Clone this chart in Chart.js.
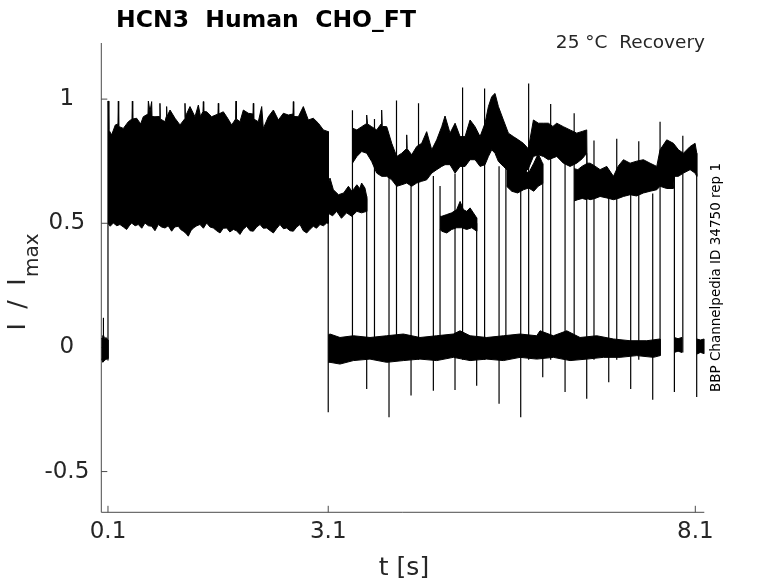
<!DOCTYPE html>
<html><head><meta charset="utf-8">
<script src="https://cdn.jsdelivr.net/npm/chart.js@4"></script>
<style>html,body{margin:0;padding:0;background:#fff;overflow:hidden}canvas{display:block}</style>
</head><body>
<canvas id="c" width="778" height="583" style="width:778px;height:583px"></canvas>
<script>
// ---- tick labels ----
const xTicks = [0.1, 3.1, 8.1];
const yTicks = [-0.5, 0, 0.5, 1];

// ---- pre-pulse baseline (t < 0.1 s) ----
const preTopT = [0.009, 0.025, 0.033, 0.036, 0.040, 0.055, 0.075, 0.100];
const preTopV = [0.035, 0.040, 0.050, 0.119, 0.050, 0.035, 0.040, 0.030];
const preBotT = [0.009, 0.030, 0.060, 0.100];
const preBotV = [-0.045, -0.060, -0.050, -0.045];

// ---- first pulse envelope (0.1 - 3.1 s) ----
const p1TopT = [0.100,0.104,0.112,0.150,0.200,0.236,0.241,0.246,0.309,0.377,0.427,0.432,0.437,0.491,0.545,0.581,0.645,0.650,0.672,0.695,0.700,0.740,0.803,0.808,0.813,0.877,0.894,0.899,0.904,0.945,1.013,1.081,1.144,1.149,1.154,1.217,1.285,1.331,1.360,1.394,1.399,1.404,1.444,1.512,1.598,1.603,1.608,1.671,1.717,1.785,1.839,1.844,1.849,1.898,1.944,2.012,2.075,2.080,2.085,2.148,2.194,2.216,2.284,2.353,2.421,2.489,2.557,2.620,2.625,2.630,2.693,2.761,2.829,2.897,2.966,3.034,3.100];
const p1TopV = [0.992,0.992,0.876,0.856,0.896,0.900,0.992,0.890,0.882,0.909,0.920,0.992,0.920,0.923,0.900,0.929,0.940,0.992,0.950,0.990,0.930,0.929,0.930,0.983,0.920,0.909,0.930,0.970,0.930,0.956,0.923,0.896,0.920,0.983,0.930,0.970,0.929,0.976,0.930,0.950,0.990,0.950,0.949,0.929,0.940,0.983,0.940,0.949,0.929,0.896,0.920,0.992,0.920,0.909,0.956,0.943,0.940,0.983,0.920,0.909,0.970,0.882,0.929,0.956,0.916,0.943,0.936,0.940,0.990,0.930,0.929,0.970,0.916,0.923,0.903,0.876,0.869];
const p1BotT = [0.100,0.130,0.173,0.220,0.263,0.310,0.354,0.390,0.422,0.470,0.513,0.560,0.604,0.650,0.695,0.740,0.786,0.830,0.877,0.920,0.967,1.010,1.058,1.090,1.126,1.160,1.194,1.230,1.263,1.310,1.353,1.400,1.444,1.490,1.535,1.580,1.626,1.670,1.717,1.760,1.808,1.850,1.898,1.940,1.989,2.035,2.080,2.125,2.171,2.215,2.262,2.310,2.353,2.400,2.443,2.490,2.534,2.580,2.625,2.670,2.716,2.760,2.807,2.850,2.897,2.940,2.988,3.035,3.079,3.100];
const p1BotV = [0.500,0.488,0.501,0.490,0.495,0.485,0.475,0.490,0.501,0.490,0.495,0.480,0.501,0.490,0.488,0.470,0.495,0.485,0.481,0.490,0.468,0.485,0.488,0.475,0.468,0.460,0.448,0.470,0.481,0.490,0.495,0.480,0.501,0.485,0.481,0.470,0.461,0.480,0.481,0.465,0.475,0.470,0.455,0.475,0.488,0.470,0.468,0.485,0.495,0.480,0.481,0.470,0.461,0.480,0.495,0.478,0.481,0.470,0.468,0.485,0.495,0.470,0.461,0.475,0.488,0.480,0.495,0.490,0.501,0.500];

// ---- zero-current band after the first pulse ----
const zTopT = [3.100,3.124,3.260,3.442,3.669,3.896,4.123,4.350,4.577,4.804,4.895,5.032,5.259,5.486,5.713,5.940,5.985,6.167,6.349,6.530,6.757,6.984,7.211,7.439,7.620];
const zTopV = [0.050,0.054,0.040,0.047,0.040,0.047,0.054,0.040,0.047,0.054,0.067,0.047,0.040,0.047,0.054,0.047,0.067,0.047,0.067,0.040,0.047,0.034,0.027,0.027,0.034];
const zBotT = [3.100,3.124,3.260,3.442,3.669,3.896,4.123,4.350,4.577,4.804,5.032,5.259,5.486,5.713,5.940,6.167,6.394,6.621,6.848,7.075,7.302,7.530,7.620];
const zBotV = [-0.060,-0.060,-0.067,-0.053,-0.047,-0.060,-0.053,-0.047,-0.053,-0.040,-0.053,-0.047,-0.053,-0.040,-0.047,-0.040,-0.053,-0.047,-0.040,-0.040,-0.033,-0.040,-0.033];
const zaT = [7.815, 7.865, 7.915];
const zaTopV = [0.040, 0.035, 0.040];
const zaBotV = [-0.020, -0.015, -0.020];
const zbT = [8.119, 8.170, 8.222];
const zbTopV = [0.034, 0.030, 0.034];
const zbBotV = [-0.027, -0.020, -0.025];

// ---- second-pulse segments ----
const s1TopT = [3.100,3.124,3.170,3.240,3.310,3.375,3.420,3.440,3.490,3.530,3.555,3.600,3.624];
const s1TopV = [0.657,0.682,0.635,0.615,0.622,0.649,0.630,0.635,0.655,0.640,0.662,0.642,0.608];
const s1BotT = [3.100,3.160,3.215,3.280,3.350,3.420,3.490,3.555,3.624];
const s1BotV = [0.540,0.530,0.548,0.520,0.542,0.528,0.548,0.542,0.548];

const s3TopT = [4.623,4.646,4.714,4.782,4.850,4.896,4.941,4.986,5.032,5.077,5.122];
const s3TopV = [0.528,0.528,0.535,0.542,0.555,0.588,0.555,0.548,0.562,0.542,0.522];
const s3BotT = [4.623,4.646,4.714,4.782,4.850,4.920,4.986,5.055,5.122];
const s3BotV = [0.475,0.468,0.461,0.475,0.482,0.482,0.475,0.482,0.468];

const mTopT = [3.430,3.490,3.556,3.615,3.624,3.635,3.692,3.760,3.820,3.828,3.836,3.897,3.965,4.033,4.101,4.165,4.169,4.175,4.237,4.305,4.373,4.441,4.510,4.578,4.646,4.691,4.759,4.828,4.896,4.964,5.032,5.100,5.168,5.236,5.282,5.327,5.372,5.418,5.486,5.554,5.622,5.690,5.758,5.826,5.895,5.963,6.031,6.099,6.160,6.213,6.303,6.394,6.485,6.560,6.621,6.625,6.667,6.735,6.803,6.894,6.985,7.050,7.121,7.212,7.300,7.393,7.484,7.575,7.620,7.711,7.802,7.870,7.938,8.029,8.097,8.120];
const mTopV = [0.883,0.876,0.889,0.900,0.936,0.900,0.889,0.876,0.900,0.956,0.890,0.889,0.822,0.769,0.782,0.800,0.856,0.800,0.776,0.809,0.822,0.869,0.796,0.836,0.889,0.932,0.863,0.903,0.849,0.849,0.916,0.889,0.849,0.903,0.970,1.010,1.023,0.970,0.916,0.863,0.849,0.836,0.822,0.800,0.916,0.903,0.903,0.903,0.890,0.903,0.889,0.876,0.863,0.870,0.876,0.742,0.742,0.730,0.716,0.729,0.689,0.730,0.756,0.742,0.750,0.756,0.742,0.729,0.796,0.836,0.822,0.796,0.782,0.809,0.822,0.782];
const mBotT = [3.430,3.490,3.556,3.624,3.692,3.760,3.828,3.897,3.965,4.033,4.101,4.169,4.237,4.305,4.373,4.441,4.510,4.578,4.646,4.691,4.759,4.828,4.896,4.964,5.032,5.100,5.168,5.236,5.282,5.327,5.372,5.418,5.486,5.554,5.622,5.690,5.758,5.826,5.895,5.963,6.031,6.099,6.213,6.303,6.394,6.485,6.560,6.621,6.625,6.667,6.735,6.803,6.894,6.985,7.050,7.121,7.212,7.300,7.393,7.484,7.575,7.620,7.711,7.802,7.815,7.870,7.938,8.029,8.097,8.120];
const mBotV = [0.742,0.769,0.789,0.782,0.749,0.702,0.689,0.689,0.675,0.649,0.655,0.662,0.649,0.662,0.669,0.675,0.702,0.716,0.729,0.736,0.736,0.702,0.729,0.729,0.756,0.756,0.729,0.736,0.769,0.796,0.782,0.749,0.729,0.710,0.700,0.700,0.700,0.720,0.769,0.776,0.769,0.756,0.769,0.742,0.729,0.742,0.760,0.782,0.600,0.595,0.600,0.608,0.602,0.595,0.600,0.608,0.615,0.610,0.622,0.629,0.635,0.649,0.640,0.640,0.689,0.689,0.702,0.716,0.702,0.689];

const l1T = [5.530,5.600,5.680,5.760,5.830,5.900,5.960,6.022];
const l1TopV = [0.742,0.716,0.729,0.716,0.702,0.742,0.780,0.740];
const l1BotV = [0.649,0.629,0.622,0.635,0.642,0.629,0.649,0.660];
const l2T = [6.450,6.500,6.560,6.621];
const l2TopV = [0.720,0.716,0.730,0.740];
const l2BotV = [0.590,0.595,0.600,0.595];

// ---- step transitions (vertical strokes) ----
const vlineT  = [0.100,3.430,3.730,4.030,4.330,4.623,4.930,5.230,5.520,5.830,6.130,6.450,6.720,7.030,7.330,7.620,7.930,
                 3.100,3.624,3.928,4.228,4.532,4.827,5.122,5.427,5.722,6.022,6.326,6.621,6.921,7.220,7.520,7.815,8.119];
const vlineLo = [-0.053,-0.050,-0.050,-0.050,-0.050,-0.050,-0.050,-0.050,-0.050,-0.050,-0.050,-0.050,-0.050,-0.050,-0.050,-0.033,-0.020,
                 -0.261,-0.167,-0.281,-0.194,-0.174,-0.171,-0.154,-0.227,-0.281,-0.120,-0.180,-0.207,-0.140,-0.167,-0.211,-0.180,-0.200];
const vlineHi = [0.992,0.955,0.920,0.994,0.983,0.650,1.047,1.043,0.750,1.063,0.980,0.943,0.833,0.840,0.830,0.909,0.852,
                 0.870,0.600,0.690,0.660,0.690,0.700,0.500,0.730,0.700,0.660,0.760,0.700,0.610,0.640,0.620,0.690,0.700];

// ---- texts ----
const titleText = 'HCN3  Human  CHO_FT';
const subText = '25 \u00B0C  Recovery';
const xLabel = 't [s]';
const sideText = 'BBP Channelpedia ID 34750 rep 1';

// ---- helpers ----
const pts = (t, v) => t.map((x, i) => ({x: x, y: v[i]}));
const shape = (tT, vT, tB, vB) => pts(tT, vT).concat(pts(tB, vB).reverse());
const band = (data) => ({data, fill: 'shape', backgroundColor: '#000', borderColor: '#000', borderWidth: 1, pointRadius: 0, tension: 0});

const vdata = [];
vlineT.forEach((t, i) => { vdata.push({x: t, y: vlineLo[i]}, {x: t, y: vlineHi[i]}, {x: t, y: null}); });

const datasets = [
  band(shape(preTopT, preTopV, preBotT, preBotV)),
  band(shape(p1TopT, p1TopV, p1BotT, p1BotV)),
  band(shape(zTopT, zTopV, zBotT, zBotV)),
  band(shape(zaT, zaTopV, zaT, zaBotV)),
  band(shape(zbT, zbTopV, zbT, zbBotV)),
  band(shape(s1TopT, s1TopV, s1BotT, s1BotV)),
  band(shape(s3TopT, s3TopV, s3BotT, s3BotV)),
  band(shape(mTopT, mTopV, mBotT, mBotV)),
  band(shape(l1T, l1TopV, l1T, l1BotV)),
  band(shape(l2T, l2TopV, l2T, l2BotV)),
  {data: vdata, fill: false, borderColor: '#000', borderWidth: 1.2, pointRadius: 0, spanGaps: false, tension: 0}
];

const FONT = '"DejaVu Sans", sans-serif';

const axesPlugin = {
  id: 'matlabAxes',
  beforeDatasetsDraw(chart) {
    const {ctx, chartArea: a, scales: {x, y}} = chart;
    ctx.save();
    ctx.strokeStyle = '#4a4a4a';
    ctx.lineWidth = 1;
    ctx.beginPath();
    ctx.moveTo(a.left, a.top); ctx.lineTo(a.left, a.bottom); ctx.lineTo(a.right, a.bottom);
    yTicks.forEach(v => { const p = y.getPixelForValue(v); ctx.moveTo(a.left, p); ctx.lineTo(a.left + 6, p); });
    xTicks.forEach(v => { const p = x.getPixelForValue(v); ctx.moveTo(p, a.bottom); ctx.lineTo(p, a.bottom - 6.5); });
    ctx.stroke();
    ctx.restore();
  },
  afterDraw(chart) {
    const {ctx} = chart;
    ctx.save();
    ctx.fillStyle = '#000';
    ctx.textBaseline = 'alphabetic';
    ctx.font = 'bold 23.5px ' + FONT;
    ctx.textAlign = 'center';
    ctx.fillText(titleText, 266, 26.7);
    ctx.fillStyle = '#262626';
    ctx.font = '18.5px ' + FONT;
    ctx.textAlign = 'right';
    ctx.fillText(subText, 705, 48);
    ctx.font = '25px ' + FONT;
    ctx.textAlign = 'center';
    ctx.fillText(xLabel, 404, 575);
    // y label: I / I_max
    ctx.save();
    ctx.translate(25, 0);
    ctx.rotate(-Math.PI / 2);
    ctx.font = '25px ' + FONT;
    ctx.textAlign = 'center';
    ctx.fillText('I', -326.7, 0);
    ctx.fillText('/', -304.5, 0);
    ctx.fillText('I', -282, 0);
    ctx.font = '20px ' + FONT;
    ctx.textAlign = 'left';
    ctx.fillText('max', -277, 12.5);
    ctx.restore();
    // side label
    ctx.save();
    ctx.fillStyle = '#000';
    ctx.translate(720, 277.5);
    ctx.rotate(-Math.PI / 2);
    ctx.font = '13.5px ' + FONT;
    ctx.textAlign = 'center';
    ctx.fillText(sideText, 0, 0);
    ctx.restore();
    ctx.restore();
  }
};

new Chart(document.getElementById('c'), {
  type: 'line',
  data: {datasets},
  options: {
    responsive: false,
    devicePixelRatio: 1,
    animation: false,
    events: [],
    layout: {padding: {left: 0, top: 43, right: 73.7, bottom: 30.7}},
    plugins: {legend: {display: false}, tooltip: {enabled: false}, title: {display: false}},
    scales: {
      x: {
        type: 'linear', min: 0.009, max: 8.2226,
        afterBuildTicks: s => { s.ticks = xTicks.map(v => ({value: v})); },
        afterFit: s => { s.height = 40; },
        grid: {display: false, drawTicks: false},
        border: {display: false},
        ticks: {font: {family: FONT, size: 23}, color: '#262626', padding: 6, autoSkip: false, maxRotation: 0, callback: v => String(v)}
      },
      y: {
        type: 'linear', min: -0.664, max: 1.226,
        afterBuildTicks: s => { s.ticks = yTicks.map(v => ({value: v})); },
        afterFit: s => { s.width = 101.3; },
        grid: {display: false, drawTicks: false},
        border: {display: false},
        ticks: {font: {family: FONT, size: 23}, color: '#262626', padding: 12, crossAlign: 'center', autoSkip: false, callback: v => String(v)}
      }
    }
  },
  plugins: [axesPlugin]
});
</script>
</body></html>
